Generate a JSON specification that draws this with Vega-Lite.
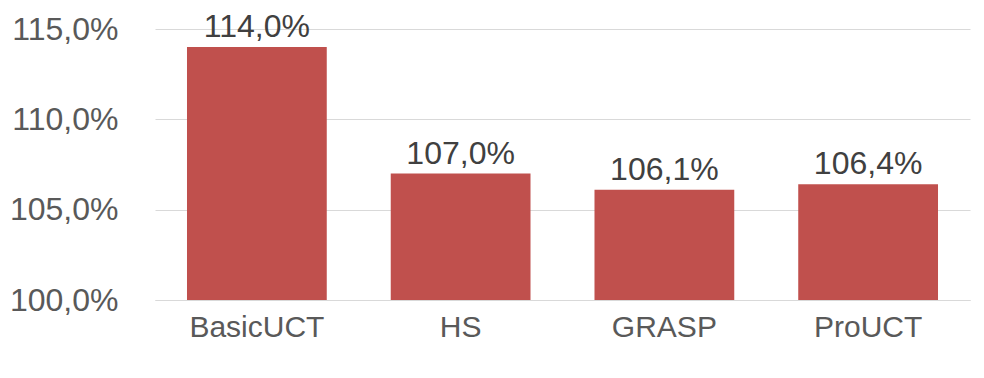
{
  "$schema": "https://vega.github.io/schema/vega-lite/v6.json",
  "autosize": "none",
  "width": 815,
  "height": 271,
  "padding": {"left": 155, "top": 29, "right": 14, "bottom": 78},
  "background": "white",
  "config": {
    "view": {"stroke": null},
    "font": "Liberation Sans",
    "locale": {"number": {"decimal": ",", "thousands": ".", "grouping": [3], "currency": ["", " €"], "percent": "%"}}
  },
  "data": {"values": [
    {"method": "BasicUCT", "value": 1.140},
    {"method": "HS", "value": 1.070},
    {"method": "GRASP", "value": 1.061},
    {"method": "ProUCT", "value": 1.064}
  ]},
  "encoding": {
    "x": {"field": "method", "type": "nominal", "sort": null,
      "scale": {"paddingInner": 0.314, "paddingOuter": 0.157},
      "axis": {"title": null, "labelAngle": 0, "labelFontSize": 30, "labelColor": "#595959", "ticks": false, "domain": true, "domainColor": "#d9d9d9", "domainWidth": 1, "labelPadding": 36, "labelBaseline": "alphabetic"}},
    "y": {"field": "value", "type": "quantitative",
      "scale": {"domain": [1.0, 1.15], "zero": false, "nice": false},
      "axis": {"title": null, "values": [1.0, 1.05, 1.1, 1.15], "format": ".1%", "labelFontSize": 32, "labelColor": "#595959", "ticks": false, "domain": false, "gridColor": "#d9d9d9", "gridWidth": 1, "labelPadding": 37}}
  },
  "layer": [
    {"mark": {"type": "bar", "color": "#c0504d", "clip": true}},
    {"mark": {"type": "text", "baseline": "alphabetic", "dy": -10, "fontSize": 32, "color": "#404040"},
     "encoding": {"text": {"field": "value", "type": "quantitative", "format": ".1%"}}}
  ]
}
